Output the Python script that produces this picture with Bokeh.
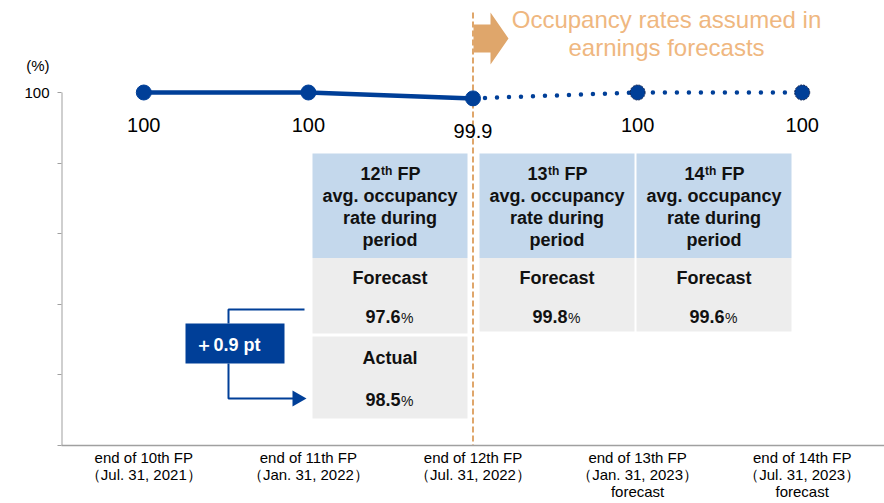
from bokeh.plotting import figure
from bokeh.models import Range1d, FixedTicker, CustomJSTickFormatter
from bokeh.core.properties import value
from bokeh.embed import file_html
from bokeh.resources import INLINE

# ---------------- data ----------------
period_labels = [
    "end of 10th FP\n（Jul. 31, 2021）",
    "end of 11th FP\n（Jan. 31, 2022）",
    "end of 12th FP\n（Jul. 31, 2022）",
    "end of 13th FP\n（Jan. 31, 2023）\nforecast",
    "end of 14th FP\n（Jul. 31, 2023）\nforecast",
]
occupancy = [100, 100, 99.9, 100, 100]
occupancy_text = ["100", "100", "99.9", "100", "100"]
n_actual = 3
fp_numbers = ["12", "13", "14"]
fp_forecast = [97.6, 99.8, 99.6]
fp_actual = [98.5, None, None]
diff_text = "＋0.9 pt"
y_axis_min, y_axis_max = 94, 100
y_ticks_minor = [94, 95.2, 96.4, 97.6, 98.8, 100]
y_tick_labelled = 100
unit_text = "(%)"

# ---------------- styling / layout helpers ----------------
BLUE = "#003f98"
ORANGE = "#dfa66b"
ORANGE_TXT = "#efb780"
HEAD = "#c4d8ec"
GREY = "#ededed"
AXIS = "#a0a0a0"
FONT = "Liberation Sans"

W, H = 884, 503
FL, FR, FT, FB = 61, 884, 0, 445        # frame on page (px)
Y0 = float(y_axis_min)
PPU_Y = (445 - 92) / (y_axis_max - y_axis_min)
PPU_X = (FR - FL) / 5.0
Y1 = Y0 + (FB - FT) / PPU_Y

def X(px):
    return (px - FL) / PPU_X

def Y(py):
    return Y0 + (FB - py) / PPU_Y

xs = [i + 0.5 for i in range(len(occupancy))]
unit_pos = Y(65)

p = figure(width=W, height=H, output_backend="svg", toolbar_location=None,
           x_range=Range1d(0, 5), y_range=Range1d(Y0, Y1),
           min_border_left=FL, min_border_right=0, min_border_top=0,
           min_border_bottom=H - FB)
p.outline_line_color = None
p.grid.visible = False

# y axis: labelled tick at 100 plus the unit "(%)" above it
ya = p.yaxis[0]
ya.ticker = FixedTicker(ticks=[y_tick_labelled, unit_pos], minor_ticks=y_ticks_minor)
ya.formatter = CustomJSTickFormatter(
    args=dict(lab=str(y_tick_labelled), unit=unit_text, cut=(y_tick_labelled + unit_pos) / 2),
    code="return tick > cut ? unit : lab;")
ya.axis_line_color = None
ya.major_tick_line_color = None
ya.major_tick_out = 0
ya.major_tick_in = 0
ya.minor_tick_line_color = AXIS
ya.minor_tick_out = 4
ya.minor_tick_in = 0
ya.major_label_standoff = 8
ya.major_label_text_font = FONT
ya.major_label_text_font_size = "15px"
ya.major_label_text_color = "#000000"
p.segment(x0=[0], y0=[y_axis_min], x1=[0], y1=[y_axis_max], line_color=AXIS, line_width=2)

# x axis
xa = p.xaxis[0]
xa.ticker = FixedTicker(ticks=xs)
xa.formatter = CustomJSTickFormatter(args=dict(labels=period_labels),
                                     code="return labels[Math.round(tick - 0.5)];")
xa.axis_line_color = AXIS
xa.axis_line_width = 1.5
xa.major_tick_line_color = None
xa.minor_tick_line_color = None
xa.major_tick_out = 0
xa.major_label_standoff = 3
xa.major_label_text_font = FONT
xa.major_label_text_font_size = "15px"
xa.major_label_text_line_height = 1.0
xa.major_label_text_color = "#000000"

def txt(xp, yp, s, size, bold=False, align="center", color="#111111"):
    p.text(x=[X(xp)], y=[Y(yp)], text=[s], text_align=align, text_baseline="middle",
           text_font=value(FONT), text_font_style="bold" if bold else "normal",
           text_font_size=size, text_color=color)

# ------- forecast boundary: arrow + dashed line + caption -------
ax = [473, 490, 490, 508, 490, 490, 473]
ay = [24, 24, 12, 38, 64, 52, 52]
p.patch([X(v) for v in ax], [Y(v) for v in ay], color=ORANGE, line_width=0)
p.segment(x0=[xs[n_actual - 1]], y0=[Y(12)], x1=[xs[n_actual - 1]], y1=[Y0],
          line_color=ORANGE, line_width=2, line_dash="6 3")
txt(666, 18.5, "Occupancy rates assumed in", "24px", color=ORANGE_TXT)
txt(666, 46.5, "earnings forecasts", "24px", color=ORANGE_TXT)

# ------- tables -------
centers = [389.5, 556.5, 713.5]
half_w = 77.5
head_top, head_bot = 153, 257.5
fc_bot = [333, 331, 331]
TS = "18px"
for c, num, fc, ac, fb in zip(centers, fp_numbers, fp_forecast, fp_actual, fc_bot):
    l, r = X(c - half_w), X(c + half_w)
    p.quad(left=l, right=r, top=Y(head_top), bottom=Y(head_bot), color=HEAD, line_width=0)
    p.quad(left=l, right=r, top=Y(head_bot), bottom=Y(fb), color=GREY, line_width=0)
    txt(c - 9.5, 173, num, TS, True, "right")
    txt(c - 9, 170.5, "th", "12px", True, "left")
    txt(c + 7.5, 173, "FP", TS, True, "left")
    txt(c, 195, "avg. occupancy", TS, True)
    txt(c, 217, "rate during", TS, True)
    txt(c, 239, "period", TS, True)
    txt(c, 277, "Forecast", TS, True)
    rows = [(fc, 316)]
    if ac is not None:
        p.quad(left=l, right=r, top=Y(336), bottom=Y(418), color=GREY, line_width=0)
        txt(c, 357.5, "Actual", TS, True)
        rows.append((ac, 398.5))
    for v, yc in rows:
        txt(c + 10.5, yc, f"{v:.1f}", TS, True, "right")
        txt(c + 11, yc + 1.5, "%", "14px", False, "left")

# ------- difference callout -------
p.line([X(304), X(228), X(228)], [Y(309), Y(309), Y(323)], line_color=BLUE, line_width=2)
p.line([X(228), X(228), X(293)], [Y(363), Y(398), Y(398)], line_color=BLUE, line_width=2)
p.patch([X(292), X(306), X(292)], [Y(390), Y(398), Y(406)], color=BLUE, line_width=0)
p.quad(left=X(185), right=X(284), top=Y(323), bottom=Y(363), color=BLUE, line_width=0)
txt(227.5, 344.5, diff_text, "18px", True, color="white")

# ------- occupancy line -------
p.line(xs[:n_actual], occupancy[:n_actual], line_color=BLUE, line_width=4.5)
p.line(xs[n_actual - 1:], occupancy[n_actual - 1:], line_color=BLUE, line_width=4.5,
       line_dash="0 12", line_cap="round")
p.scatter(xs[:n_actual], occupancy[:n_actual], size=15, fill_color=BLUE, line_color=BLUE)
p.scatter(xs[n_actual:], occupancy[n_actual:], size=15, fill_color=BLUE,
          line_color="#0b1f4f", line_dash="2 1", line_width=1)
p.text(x=xs, y=[v - 32.5 / PPU_Y for v in occupancy], text=occupancy_text,
       text_align="center", text_baseline="middle", text_font=value(FONT),
       text_font_size="20px", text_color="#000000")

open("out.html", "w").write(file_html(p, INLINE))
